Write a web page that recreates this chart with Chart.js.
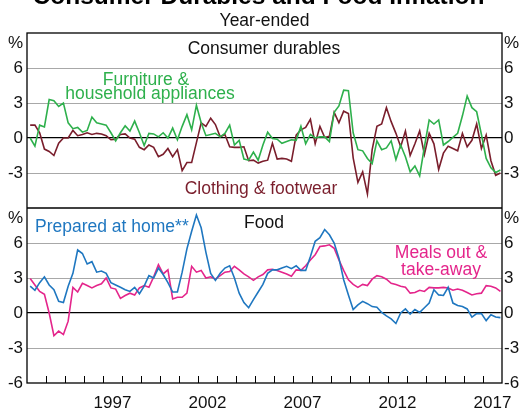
<!DOCTYPE html>
<html>
<head>
<meta charset="utf-8">
<script src="https://cdn.jsdelivr.net/npm/chart.js@4.4.1/dist/chart.umd.min.js"></script>
<style>
  html, body { margin: 0; padding: 0; background: #fff; }
  #wrap { width: 524px; height: 408px; }
</style>
</head>
<body>
<div id="wrap"><canvas id="chart" width="524" height="408"></canvas></div>
<script>
// Year-ended % change, quarterly, Mar 1993 - Dec 2017
const firstYear = 1993;
const lastYear = 2017;
const quarterMonths = [3, 6, 9, 12];

const furniture = [
  0.0, -0.7, 1.1, 0.95, 3.3, 3.2, 2.7, 3.0, 1.3, 0.8,
  0.9, 0.5, 0.65, 1.8, 1.3, 1.2, 1.1, 0.45, -0.25, 0.45,
  1.05, 0.6, 1.45, 0.45, -0.65, 0.4, 0.35, 0.1, 0.45, 0.0,
  0.85, -0.15, 1.0, 2.0, 0.7, 2.8, 1.3, 0.2, 0.3, 0.4,
  0.1, 0.4, 1.1, -0.6, -0.2, -1.8, -1.9, -1.2, -1.9, -0.6,
  0.5, -0.05, -0.1, -0.45, -0.3, -0.15, -0.2, 1.0, -0.5, 0.3,
  0.0, 0.1, 0.1, -0.3, 2.2, 2.75, 4.1, 4.05, 0.45, -1.0,
  -1.1, -1.75, -2.2, -0.25, -1.0, -0.85, -0.25, -1.85, -0.6, -1.6,
  -2.9, -2.4, -3.25, -0.75, 1.55, 1.2, 1.55, -0.6, -0.3, 0.05,
  0.4, 1.9, 3.6, 2.6, 2.25, 0.3, -1.75, -2.55, -2.95, -2.75
];

const clothing = [
  1.1, 1.1, 0.45, -0.95, -1.15, -1.5, -0.45, 0.0, 0.0, 0.65,
  0.2, 0.3, 0.45, 0.3, 0.4, 0.35, 0.2, -0.15, -0.1, 0.3,
  0.35, 0.0, -0.1, -0.8, -1.0, -0.6, -0.8, -1.6, -1.4, -0.9,
  -1.6, -1.0, -2.8, -2.1, -2.1, -0.4, 1.3, 1.0, 1.7, 1.15,
  0.1, 0.3, -0.75, -0.8, -0.8, -0.75, -1.95, -1.9, -2.15, -2.0,
  -1.9, -0.45, -1.8, -1.75, -1.8, -2.0, 0.25, 0.7, 0.9, 1.6,
  -0.5, 1.0, 0.05, 0.15, 2.2, 1.3, 2.3, 2.1, -1.7, -3.8,
  -2.9, -4.8, -1.0, 1.0, 1.2, 2.6, 1.4, 0.4, -0.75, 0.6,
  -1.5, -0.5, 0.6, -1.4, 0.4, -0.5, -2.7, -1.3, -0.7, -0.9,
  -1.1, 0.4, -0.75, -0.2, 1.2, -0.9, 0.25, -1.95, -3.2, -3.0
];

const preparedAtHome = [
  2.3, 1.95, 2.6, 3.1, 2.4, 2.0, 1.0, 0.9, 2.3, 3.4,
  5.4, 5.1, 4.2, 4.4, 3.5, 3.6, 3.4, 2.6, 2.4, 2.2,
  2.0, 1.85, 2.2, 1.65, 2.3, 3.2, 3.0, 3.85, 3.3, 2.6,
  1.8, 1.8, 3.5, 5.5, 7.0, 8.4, 7.3, 5.2, 3.4, 2.8,
  3.4, 3.85, 4.05, 3.0, 1.7, 0.9, 0.45, 1.15, 1.8, 2.45,
  3.4, 3.7, 3.7, 3.85, 4.0, 3.8, 4.05, 3.65, 3.65, 4.85,
  6.15, 6.45, 7.15, 6.7, 6.0, 4.7, 2.85, 1.55, 0.3, 0.7,
  1.0, 0.8, 0.55, 0.5, 0.05, -0.25, -0.5, -0.9, 0.0, 0.35,
  -0.1, 0.3, 0.05, 0.45, 0.85, 2.0, 1.55, 1.5, 2.2, 0.85,
  0.65, 0.55, 0.35, -0.35, -0.05, -0.05, -0.65, -0.15, -0.35, -0.4
];

const mealsOut = [
  2.95, 2.4, 1.85, 1.6, 0.0, -1.95, -1.55, -1.85, -0.7, 2.2,
  1.8, 2.55, 2.35, 2.15, 2.35, 2.5, 3.0, 2.15, 2.05, 1.25,
  1.5, 1.7, 1.55, 2.15, 2.35, 2.2, 3.1, 4.15, 3.35, 3.7,
  1.2, 1.35, 1.35, 1.7, 4.0, 3.5, 3.65, 3.0, 3.1, 2.9,
  3.2, 3.5, 3.55, 4.0, 3.7, 3.35, 3.1, 2.8, 3.1, 3.3,
  3.7, 3.75, 3.65, 3.5, 3.35, 3.15, 3.7, 3.65, 4.05, 4.55,
  5.0, 5.7, 5.75, 5.85, 5.55, 4.55, 3.65, 2.85, 2.45, 2.2,
  2.45, 2.35, 2.9, 3.2, 3.1, 2.9, 2.55, 2.45, 2.3, 2.2,
  1.7, 1.75, 1.95, 1.85, 2.2, 2.15, 2.15, 2.2, 2.15, 1.95,
  2.05, 1.95, 1.75, 1.55, 1.65, 1.7, 2.35, 2.3, 2.15, 1.85
];

const yearLabels = [1997, 2002, 2007, 2012, 2017];
const yTicks = [-6, -3, 0, 3, 6, 9];

// quarter positions on a decimal-year axis (plotted at the quarter's last month)
const quarters = [];
for (let y = firstYear; y <= lastYear; y++) {
  quarterMonths.forEach(m => quarters.push(y + (m - 1) / 12));
}
const toPoints = vals => vals.map((v, i) => ({ x: quarters[i], y: v }));

const FONT = "'Liberation Sans', Arial, Helvetica, sans-serif";
const GREEN = '#2eb04c';
const MAROON = '#7a1e2c';
const BLUE = '#1f77c0';
const PINK = '#e4258b';

function gridColour(ctx) {
  const v = ctx.tick.value;
  if (v === 0) return '#000';
  if (v === 9 || v === -6) return 'rgba(0,0,0,0)';
  return '#a8a8a8';
}

function leftAxis(hideBottom) {
  return {
    type: 'linear', position: 'left', stack: 'left', stackWeight: 1,
    min: -6, max: 9,
    afterBuildTicks: s => { s.ticks = yTicks.map(v => ({ value: v })); },
    afterFit: s => { s.width = 27; },
    border: { display: false },
    grid: { color: gridColour, lineWidth: c => (c.tick.value === 0 ? 1.3 : 1), drawTicks: false },
    ticks: {
      padding: 4, color: '#111', autoSkip: false, font: { family: FONT, size: 17 },
      callback: v => (v === 9 || (hideBottom && v === -6)) ? '' : String(v)
    }
  };
}

function rightAxis(hideBottom) {
  return {
    type: 'linear', position: 'right', stack: 'right', stackWeight: 1,
    min: -6, max: 9,
    afterBuildTicks: s => { s.ticks = yTicks.map(v => ({ value: v })); },
    afterFit: s => { s.width = 22; },
    border: { display: false },
    grid: { display: false, drawTicks: false },
    ticks: {
      padding: 2, color: '#111', autoSkip: false, font: { family: FONT, size: 17 },
      callback: v => (v === 9 || (hideBottom && v === -6)) ? '' : String(v)
    }
  };
}

function text(ctx, str, x, y, colour, font, align) {
  ctx.fillStyle = colour;
  ctx.font = font;
  ctx.textAlign = align || 'center';
  ctx.textBaseline = 'alphabetic';
  ctx.fillText(str, x, y);
}

const decor = {
  id: 'decor',
  afterDraw(chart) {
    const { ctx, chartArea: a, scales } = chart;
    ctx.save();
    ctx.strokeStyle = '#000';
    ctx.lineWidth = 1.3;
    ctx.strokeRect(a.left, a.top, a.right - a.left, a.bottom - a.top);
    const div = scales.yTop.bottom;
    ctx.beginPath();
    ctx.moveTo(a.left, div); ctx.lineTo(a.right, div);
    ctx.stroke();

    // inward year ticks on the bottom axis
    ctx.lineWidth = 1;
    ctx.beginPath();
    for (let y = firstYear + 1; y <= lastYear; y++) {
      const px = Math.round(scales.x.getPixelForValue(y)) + 0.5;
      ctx.moveTo(px, a.bottom); ctx.lineTo(px, a.bottom - 7);
    }
    ctx.stroke();

    const reg = '17.5px ' + FONT;
    text(ctx, 'Consumer Durables and Food Inflation', 258.5, 4, '#000', 'bold 24.5px ' + FONT);
    text(ctx, 'Year-ended', 264.5, 26, '#111', reg);
    text(ctx, 'Consumer durables', 264, 54, '#111', reg);
    text(ctx, 'Food', 264, 228, '#111', reg);
    text(ctx, 'Furniture &', 146, 85, GREEN, reg);
    text(ctx, 'household appliances', 150, 99, GREEN, reg);
    text(ctx, 'Clothing & footwear', 261, 194, MAROON, reg);
    text(ctx, 'Prepared at home**', 35, 232, BLUE, reg, 'left');
    text(ctx, 'Meals out &', 441, 258, PINK, reg);
    text(ctx, 'take-away', 441, 275, PINK, reg);

    // unit labels at the top of each panel
    ctx.font = '17px ' + FONT;
    ctx.fillStyle = '#111';
    ctx.textBaseline = 'middle';
    [scales.yTop, scales.yBot].forEach(s => {
      const py = s.getPixelForValue(9) + 10;
      ctx.textAlign = 'right';
      ctx.fillText('%', a.left - 4, py);
      ctx.textAlign = 'left';
      ctx.fillText('%', a.right + 2, py);
    });
    ctx.restore();
  }
};

const line = (data, colour, axis) => ({
  data: toPoints(data), yAxisID: axis, borderColor: colour, backgroundColor: colour,
  borderWidth: 1.6, pointRadius: 0, tension: 0, fill: false
});

new Chart(document.getElementById('chart'), {
  type: 'line',
  data: {
    datasets: [
      line(furniture, GREEN, 'yTop'),
      line(clothing, MAROON, 'yTop'),
      line(preparedAtHome, BLUE, 'yBot'),
      line(mealsOut, PINK, 'yBot')
    ]
  },
  options: {
    responsive: false,
    animation: false,
    devicePixelRatio: 1,
    events: [],
    layout: { padding: { top: 33, left: 0, right: 0, bottom: 0 } },
    plugins: { legend: { display: false }, tooltip: { enabled: false }, title: { display: false } },
    scales: {
      x: {
        type: 'linear', min: firstYear, max: lastYear + 1,
        afterBuildTicks: s => { s.ticks = yearLabels.map(y => ({ value: y + 0.5 })); },
        afterFit: s => { s.height = 25; },
        border: { display: false },
        grid: { display: false, drawTicks: false },
        ticks: {
          padding: 10, color: '#111', maxRotation: 0, autoSkip: false,
          font: { family: FONT, size: 17 },
          callback: v => String(Math.floor(v))
        }
      },
      yBot: leftAxis(false),
      yTop: leftAxis(true),
      yTopR: rightAxis(true),
      yBotR: rightAxis(false)
    }
  },
  plugins: [decor]
});
</script>
</body>
</html>
